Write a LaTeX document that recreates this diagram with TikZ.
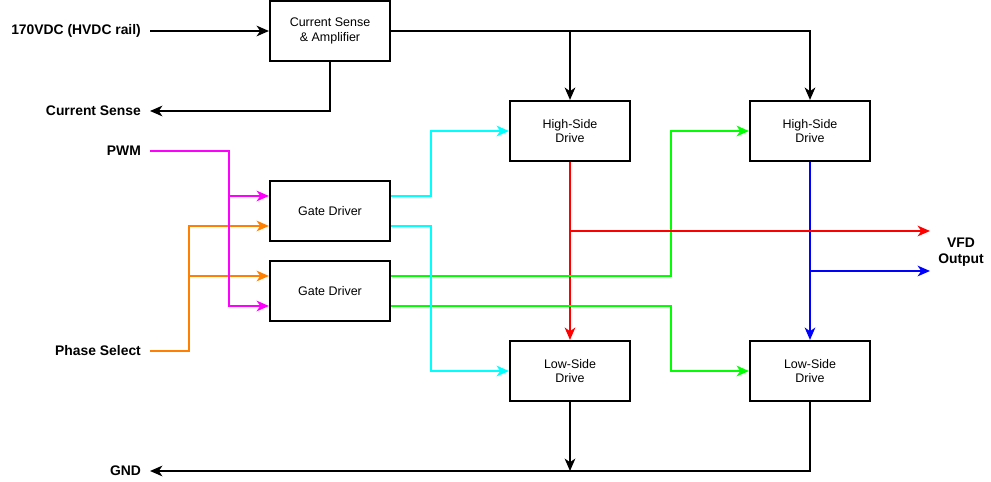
\documentclass[tikz,border=0pt]{standalone}
\usepackage{fontspec}
\setmainfont{Liberation Sans}
\usetikzlibrary{arrows.meta}

\tikzset{
	block/.style={shape=rectangle,draw=black,line width=1.2pt,minimum width=2.4cm,minimum height=1.2cm,align=center,font=\fontsize{7.1}{8.4}\selectfont},
	lbl/.style={inner xsep=5pt,inner ysep=0pt,align=center,font=\fontsize{7.9}{9.2}\selectfont\bfseries},
	wire/.style={line width=1.2pt,-{Stealth[length=7pt,width=6pt,inset=2pt]}},
	plain/.style={line width=1.2pt}
}
\definecolor{pwmcol}{HTML}{FF00FF}
\definecolor{phcol}{HTML}{FF8000}
\definecolor{cycol}{HTML}{00FFFF}
\definecolor{grcol}{HTML}{00FF00}
\definecolor{rdcol}{HTML}{FF0000}
\definecolor{blcol}{HTML}{0000FF}

\begin{document}
\begin{tikzpicture}[x=0.02cm,y=-0.02cm]
	\useasboundingbox (0,0) rectangle (991,482);

	\node[block] (csa) at (330, 31)  {Current Sense\\\& Amplifier};
	\node[block] (hs1) at (570, 131) {High-Side\\Drive};
	\node[block] (hs2) at (810, 131) {High-Side\\Drive};
	\node[block] (gd1) at (330, 211) {Gate Driver};
	\node[block] (gd2) at (330, 291) {Gate Driver};
	\node[block] (ls1) at (570, 371) {Low-Side\\Drive};
	\node[block] (ls2) at (810, 371) {Low-Side\\Drive};

	\node[lbl,anchor=east] (vdc)    at (150, 31)  {170VDC (HVDC rail)};
	\node[lbl,anchor=east] (isense) at (150, 111) {Current Sense};
	\node[lbl,anchor=east] (pwm)    at (150, 151) {PWM};
	\node[lbl,anchor=east] (phase)  at (150, 351) {Phase Select};
	\node[lbl,anchor=east] (gnd)    at (150, 471) {GND};
	\node[lbl,inner xsep=0pt] (vfd) at (961, 252) {VFD\\Output};
	\coordinate (vfda) at (930, 231);
	\coordinate (vfdb) at (930, 271);

	\draw[wire] (vdc.east) -- (csa.west);
	\draw[wire] (csa.south) |- (isense.east);
	\draw[wire] (csa.east) -| (hs2.north);
	\draw[wire] (csa.east -| hs1.north) -- (hs1.north);

	\draw[wire,phcol] (phase.east) -| ([xshift=-1.6cm,yshift=-0.3cm]gd1.west) -- ([yshift=-0.3cm]gd1.west);
	\draw[wire,phcol] ([xshift=-1.6cm,yshift=0.3cm]gd2.west) -- ([yshift=0.3cm]gd2.west);
	\draw[wire,pwmcol] (pwm.east) -| ([xshift=-0.8cm,yshift=0.3cm]gd1.west) -- ([yshift=0.3cm]gd1.west);
	\draw[wire,pwmcol] ([xshift=-0.8cm,yshift=0.3cm]gd1.west) |- ([yshift=-0.3cm]gd2.west);

	\draw[wire,rdcol] (hs1.south) -- (ls1.north);
	\draw[wire,blcol] (hs2.south) -- (ls2.north);
	\draw[wire,grcol] ([yshift=0.3cm]gd2.east) -- ++(280,0) |- (hs2.west);
	\draw[wire,grcol] ([yshift=-0.3cm]gd2.east) -- ++(280,0) |- (ls2.west);
	\draw[wire,cycol] ([yshift=0.3cm]gd1.east) -- ++(40,0) |- (hs1.west);
	\draw[wire,cycol] ([yshift=-0.3cm]gd1.east) -- ++(40,0) |- (ls1.west);
	\draw[wire,rdcol] (hs1.south |- vfda) -- (vfda);
	\draw[wire,blcol] (hs2.south |- vfdb) -- (vfdb);

	\draw[wire] (ls2.south) |- (gnd.east);
	\draw[wire] (ls1.south) -- (ls1.south |- gnd.east);
\end{tikzpicture}
\end{document}
